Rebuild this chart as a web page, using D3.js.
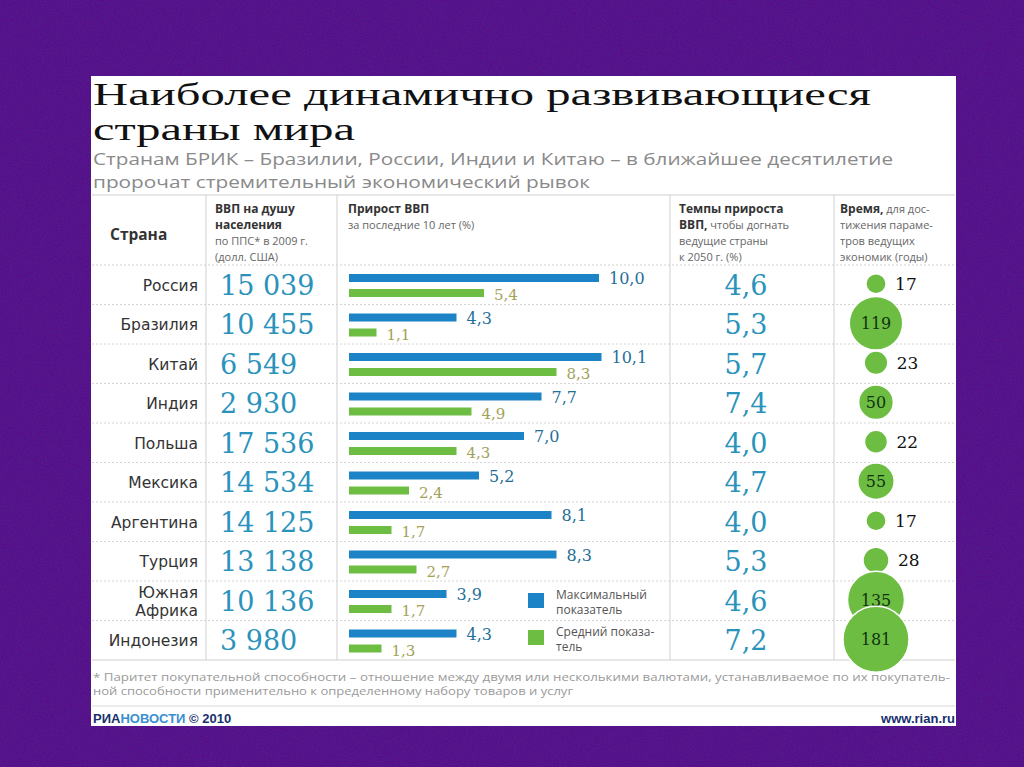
<!DOCTYPE html>
<html>
<head>
<meta charset="utf-8">
<script src="https://cdn.jsdelivr.net/npm/d3@7"></script>
<style>
  body { margin: 0; background: #4a1a82; }
  svg { display: block; }
</style>
</head>
<body>
<svg id="chart"></svg>
<script>
const countries = ["Россия", "Бразилия", "Китай", "Индия", "Польша", "Мексика", "Аргентина", "Турция", "Южная Африка", "Индонезия"];
const gdpPerCapita = [15039, 10455, 6549, 2930, 17536, 14534, 14125, 13138, 10136, 3980];
const growthMax = [10.0, 4.3, 10.1, 7.7, 7.0, 5.2, 8.1, 8.3, 3.9, 4.3];
const growthAvg = [5.4, 1.1, 8.3, 4.9, 4.3, 2.4, 1.7, 2.7, 1.7, 1.3];
const catchUpRate = [4.6, 5.3, 5.7, 7.4, 4.0, 4.7, 4.0, 5.3, 4.6, 7.2];
const yearsToCatch = [17, 119, 23, 50, 22, 55, 17, 28, 135, 181];
const legendLabels = [["Максимальный", "показатель"], ["Средний показа-", "тель"]];

const width = 1024;
const height = 767;
const blue = "#1b83c6";
const green = "#6cbd42";
const teal = "#2a93bb";

const ru = d3.formatLocale({ decimal: ",", thousands: " ", grouping: [3], currency: ["", ""] });
const fmtInt = ru.format(",d");
const fmtDec = ru.format(".1f");

const svg = d3.select("#chart").attr("width", width).attr("height", height);

// purple felt background
const defs = svg.append("defs");
const grain = defs.append("filter").attr("id", "grain").attr("x", 0).attr("y", 0).attr("width", 1).attr("height", 1);
grain.append("feTurbulence").attr("type", "fractalNoise").attr("baseFrequency", 0.75).attr("numOctaves", 3).attr("seed", 4);
grain.append("feColorMatrix").attr("type", "matrix")
  .attr("values", "0 0 0 0 0.12  0 0 0 0 0.0  0 0 0 0 0.28  1.8 0 0 0 -0.6");
svg.append("rect").attr("width", width).attr("height", height).attr("fill", "#4f1c88");
svg.append("rect").attr("width", width).attr("height", height).attr("filter", "url(#grain)");

// white sheet
svg.append("rect").attr("x", 91).attr("y", 76).attr("width", 865).attr("height", 650).attr("fill", "#fff");

// fits a text line to the width it has in the picture
function fit(sel, w) {
  sel.attr("textLength", w).attr("lengthAdjust", "spacingAndGlyphs");
  return sel;
}

const g = svg.append("g");

// title
g.append("text").attr("x", 93).attr("y", 105).text("Наиболее динамично развивающиеся")
  .style("font-family", "'Liberation Serif', serif").style("font-size", "31.5px").attr("fill", "#111")
  .call(fit, 778);
g.append("text").attr("x", 93).attr("y", 140).text("страны мира")
  .style("font-family", "'Liberation Serif', serif").style("font-size", "31.5px").attr("fill", "#111")
  .call(fit, 262);

g.append("text").attr("x", 93).attr("y", 165)
  .style("font-family", "'Open Sans', sans-serif").style("font-size", "16px").attr("fill", "#8a8a8a")
  .text("Странам БРИК – Бразилии, России, Индии и Китаю – в ближайшее десятилетие").call(fit, 800);
g.append("text").attr("x", 93).attr("y", 188)
  .style("font-family", "'Open Sans', sans-serif").style("font-size", "16px").attr("fill", "#8a8a8a")
  .text("пророчат стремительный экономический рывок").call(fit, 497);

// table frame
const y = d3.scaleBand().domain(countries).range([265, 660]);
const x = d3.scaleLinear().domain([0, 10]).range([349, 599]);
const r = d3.scaleSqrt().domain([0, 181]).range([0, 33]);

g.append("line").attr("x1", 92).attr("x2", 955).attr("y1", 195).attr("y2", 195).attr("stroke", "#cfcfcf");
g.selectAll(".sep")
  .data(countries.slice(1))
  .enter()
  .append("line")
  .attr("class", "sep")
  .attr("x1", 92).attr("x2", 955)
  .attr("y1", (d) => y(d)).attr("y2", (d) => y(d))
  .attr("stroke", "#d4d4d4").attr("stroke-dasharray", "2,2");
g.append("line").attr("x1", 92).attr("x2", 955).attr("y1", 265).attr("y2", 265)
  .attr("stroke", "#cfcfcf").attr("stroke-dasharray", "2,2");
g.append("line").attr("x1", 92).attr("x2", 955).attr("y1", 660).attr("y2", 660).attr("stroke", "#cfcfcf");
[206, 337, 670, 834].forEach((vx) => {
  g.append("line").attr("x1", vx).attr("x2", vx).attr("y1", 195).attr("y2", 660).attr("stroke", "#d0d0d0");
});

// column headers
const head = g.append("g").style("font-family", "'Open Sans', sans-serif").attr("fill", "#333");
head.append("text").attr("x", 110).attr("y", 240).text("Страна")
  .style("font-size", "15.5px").style("font-weight", "bold");
function headLines(x0, lines) {
  lines.forEach((ln, i) => {
    const t = head.append("text").attr("x", x0).attr("y", 213 + i * 16);
    ln.forEach((part) => {
      t.append("tspan").text(part[0])
        .style("font-size", part[1] ? "12px" : "11px")
        .style("font-weight", part[1] ? "bold" : "normal")
        .attr("fill", part[1] ? "#333" : "#666");
    });
  });
}
headLines(215, [[["ВВП на душу", 1]], [["населения", 1]], [["по ППС* в 2009 г.", 0]], [["(долл. США)", 0]]]);
headLines(348, [[["Прирост ВВП", 1]], [["за последние 10 лет (%)", 0]]]);
headLines(679, [[["Темпы прироста", 1]], [["ВВП,", 1], ["  чтобы догнать", 0]], [["ведущие страны", 0]], [["к 2050 г. (%)", 0]]]);
headLines(840, [[["Время,", 1], [" для дос-", 0]], [["тижения параме-", 0]], [["тров ведущих", 0]], [["экономик (годы)", 0]]]);

// rows
const rows = g.selectAll(".row")
  .data(countries)
  .enter()
  .append("g")
  .attr("class", "row");

rows.each(function (c, i) {
  const row = d3.select(this);
  const top = y(c);
  const mid = top + y.bandwidth() / 2;

  // country name
  const parts = c.split(" ");
  parts.forEach((p, k) => {
    row.append("text")
      .attr("x", 198)
      .attr("y", mid + 6 + (k - (parts.length - 1) / 2) * 18)
      .attr("text-anchor", "end")
      .style("font-family", "'DejaVu Sans', sans-serif")
      .style("font-size", "15.5px")
      .attr("fill", "#333")
      .text(p);
  });

  // GDP per capita
  row.append("text")
    .attr("x", 220).attr("y", mid + 10)
    .style("font-family", "'DejaVu Serif', serif").style("font-size", "27px")
    .attr("fill", teal)
    .text(fmtInt(gdpPerCapita[i]));

  // growth bars
  row.append("rect")
    .attr("x", x(0)).attr("y", top + 9)
    .attr("width", x(growthMax[i]) - x(0)).attr("height", 8)
    .attr("fill", blue);
  row.append("rect")
    .attr("x", x(0)).attr("y", top + 24)
    .attr("width", x(growthAvg[i]) - x(0)).attr("height", 8)
    .attr("fill", green);
  row.append("text")
    .attr("x", x(growthMax[i]) + 10).attr("y", top + 19)
    .style("font-family", "'DejaVu Serif', serif").style("font-size", "16px")
    .attr("fill", "#1f6f98")
    .text(fmtDec(growthMax[i]));
  row.append("text")
    .attr("x", x(growthAvg[i]) + 10).attr("y", top + 35)
    .style("font-family", "'DejaVu Serif', serif").style("font-size", "15px")
    .attr("fill", "#a3a25a")
    .text(fmtDec(growthAvg[i]));

  // catch-up growth rate
  row.append("text")
    .attr("x", 746).attr("y", mid + 10)
    .attr("text-anchor", "middle")
    .style("font-family", "'DejaVu Serif', serif").style("font-size", "27px")
    .attr("fill", teal)
    .text(fmtDec(catchUpRate[i]));
});

// bubbles: years needed
const bubbles = g.append("g");
countries.forEach((c, i) => {
  const cy = y(c) + y.bandwidth() / 2 - 1;
  const rad = r(yearsToCatch[i]);
  bubbles.append("circle")
    .attr("cx", 876).attr("cy", cy).attr("r", rad)
    .attr("fill", green).attr("stroke", "#fff").attr("stroke-width", 1.5);
  const inside = yearsToCatch[i] >= 50;
  bubbles.append("text")
    .attr("x", inside ? 876 : 876 + rad + 9)
    .attr("y", cy + 6)
    .attr("text-anchor", inside ? "middle" : "start")
    .style("font-family", "'DejaVu Serif', serif")
    .style("font-size", inside ? "16px" : "17px")
    .attr("fill", inside ? "#123311" : "#111")
    .text(yearsToCatch[i]);
});

// legend
const legend = g.append("g").style("font-family", "'Open Sans', sans-serif");
[blue, green].forEach((col, k) => {
  const ly = 593 + k * 37;
  legend.append("rect").attr("x", 528).attr("y", ly).attr("width", 16).attr("height", 15).attr("fill", col);
  legendLabels[k].forEach((t, j) => {
    legend.append("text").attr("x", 556).attr("y", ly + 6 + j * 15)
      .style("font-size", "12px").attr("fill", "#555").text(t);
  });
});

// footnote and credits
const foot = g.append("g").style("font-family", "'Open Sans', sans-serif").attr("fill", "#9a9a9a");
foot.append("text").attr("x", 93).attr("y", 681).style("font-size", "11.5px")
  .text("* Паритет покупательной способности – отношение между двумя или несколькими валютами, устанавливаемое по их покупатель-")
  .call(fit, 857);
foot.append("text").attr("x", 93).attr("y", 695).style("font-size", "11.5px")
  .text("ной способности применительно к определенному набору товаров и услуг")
  .call(fit, 480);
g.append("line").attr("x1", 92).attr("x2", 955).attr("y1", 706).attr("y2", 706).attr("stroke", "#d8d8d8");
const credit = g.append("text").attr("x", 93).attr("y", 723)
  .style("font-family", "'Liberation Sans', sans-serif").style("font-size", "13px").style("font-weight", "bold");
credit.append("tspan").text("РИА").attr("fill", "#17306e");
credit.append("tspan").text("НОВОСТИ").attr("fill", "#3a8fd0");
credit.append("tspan").text(" © 2010").attr("fill", "#17306e");
g.append("text").attr("x", 955).attr("y", 723).attr("text-anchor", "end")
  .style("font-family", "'Liberation Sans', sans-serif").style("font-size", "13px").style("font-weight", "bold")
  .attr("fill", "#17306e").text("www.rian.ru");
</script>
</body>
</html>
